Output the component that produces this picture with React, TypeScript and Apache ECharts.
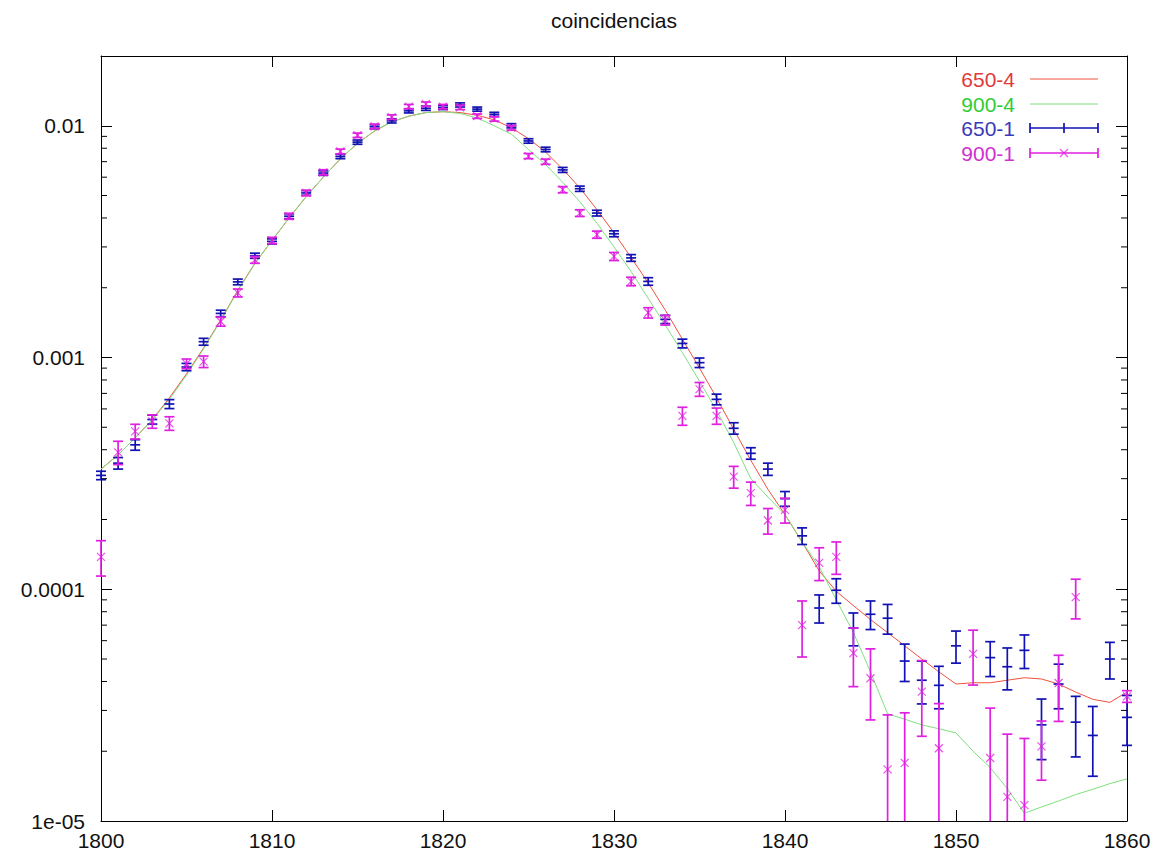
import { useEffect, useRef } from 'react'
import * as echarts from 'echarts'

// x positions (one per unit, 1800..1860)
const xValues = [
  1800, 1801, 1802, 1803, 1804, 1805, 1806, 1807, 1808, 1809,
  1810, 1811, 1812, 1813, 1814, 1815, 1816, 1817, 1818, 1819,
  1820, 1821, 1822, 1823, 1824, 1825, 1826, 1827, 1828, 1829,
  1830, 1831, 1832, 1833, 1834, 1835, 1836, 1837, 1838, 1839,
  1840, 1841, 1842, 1843, 1844, 1845, 1846, 1847, 1848, 1849,
  1850, 1851, 1852, 1853, 1854, 1855, 1856, 1857, 1858, 1859,
  1860,
]

// 650-4 (red line)
const fit650 = [
  3.3e-4, 3.8e-4, 4.5e-4, 5.4e-4, 6.7e-4, 8.5e-4, 1.1e-3, 1.45e-3, 1.95e-3, 2.55e-3,
  3.2e-3, 4.0e-3, 4.95e-3, 6.0e-3, 7.2e-3, 8.4e-3, 9.5e-3, 1.04e-2, 1.1e-2, 1.14e-2,
  1.15e-2, 1.14e-2, 1.11e-2, 1.06e-2, 9.8e-3, 8.8e-3, 7.7e-3, 6.5e-3, 5.4e-3, 4.35e-3,
  3.45e-3, 2.7e-3, 2.1e-3, 1.6e-3, 1.2e-3, 9.0e-4, 6.7e-4, 4.9e-4, 3.6e-4, 2.7e-4,
  2.1e-4, 1.6e-4, 1.2e-4, 9.8e-5, 8.5e-5, 7.4e-5, 6.5e-5, 5.7e-5, 5.0e-5, 4.4e-5,
  3.9e-5, 3.95e-5, 3.95e-5, 4.05e-5, 4.15e-5, 4.1e-5, 3.9e-5, 3.6e-5, 3.35e-5, 3.25e-5,
  3.6e-5,
]

// 900-4 (green line)
const fit900 = [
  3.3e-4, 3.8e-4, 4.5e-4, 5.4e-4, 6.6e-4, 8.4e-4, 1.09e-3, 1.44e-3, 1.94e-3, 2.54e-3,
  3.2e-3, 4.0e-3, 4.95e-3, 6.0e-3, 7.2e-3, 8.4e-3, 9.5e-3, 1.04e-2, 1.1e-2, 1.14e-2,
  1.15e-2, 1.13e-2, 1.08e-2, 1.0e-2, 9.2e-3, 7.9e-3, 6.8e-3, 5.7e-3, 4.7e-3, 3.8e-3,
  3.0e-3, 2.35e-3, 1.8e-3, 1.38e-3, 1.05e-3, 7.9e-4, 5.9e-4, 4.3e-4, 3.0e-4, 2.5e-4,
  2.1e-4, 1.6e-4, 1.25e-4, 9.0e-5, 6.5e-5, 4.4e-5, 2.9e-5, 2.75e-5, 2.6e-5, 2.5e-5,
  2.4e-5, 2.0e-5, 1.7e-5, 1.38e-5, 1.08e-5, 1.15e-5, 1.22e-5, 1.3e-5, 1.37e-5, 1.45e-5,
  1.52e-5,
]

// 650-1 (blue points) and their errors
const meas650 = [
  3.1e-4, 3.5e-4, 4.2e-4, 5.4e-4, 6.3e-4, 9.1e-4, 1.17e-3, 1.55e-3, 2.12e-3, 2.75e-3,
  3.17e-3, 4.07e-3, 5.13e-3, 6.25e-3, 7.37e-3, 8.5e-3, 9.9e-3, 1.05e-2, 1.16e-2, 1.19e-2,
  1.2e-2, 1.23e-2, 1.18e-2, 1.12e-2, 1.0e-2, 8.6e-3, 7.9e-3, 6.45e-3, 5.35e-3, 4.2e-3,
  3.42e-3, 2.69e-3, 2.13e-3, 1.46e-3, 1.15e-3, 9.5e-4, 6.6e-4, 4.95e-4, 3.86e-4, 3.3e-4,
  2.46e-4, 1.7e-4, 8.3e-5, 9.9e-5, 6.8e-5, 7.8e-5, 7.5e-5, 4.9e-5, 4.05e-5, 3.85e-5,
  5.7e-5, null, 5.07e-5, 4.63e-5, 5.45e-5, 2.6e-5, 3.9e-5, 2.67e-5, 2.34e-5, 5.0e-5,
  2.8e-5,
]
const err650 = [
  1.3e-5, 2.0e-5, 2.2e-5, 2.4e-5, 2.8e-5, 3.3e-5, 4.0e-5, 5.0e-5, 6.0e-5, 7.0e-5,
  8.0e-5, 1.0e-4, 1.2e-4, 1.4e-4, 1.6e-4, 1.8e-4, 2.0e-4, 2.2e-4, 2.4e-4, 2.5e-4,
  2.5e-4, 2.5e-4, 2.4e-4, 2.3e-4, 2.1e-4, 1.9e-4, 1.8e-4, 1.6e-4, 1.4e-4, 1.2e-4,
  1.0e-4, 9.0e-5, 8.0e-5, 6.0e-5, 5.0e-5, 4.5e-5, 3.5e-5, 2.8e-5, 2.2e-5, 2.0e-5,
  1.8e-5, 1.4e-5, 1.15e-5, 1.2e-5, 1.1e-5, 1.1e-5, 1.1e-5, 9.0e-6, 8.5e-6, 8.0e-6,
  9.0e-6, null, 8.7e-6, 9.5e-6, 9.0e-6, 7.6e-6, 8.5e-6, 7.8e-6, 7.8e-6, 9.0e-6,
  6.8e-6,
]

// 900-1 (magenta points) and their errors
const meas900 = [
  1.38e-4, 3.9e-4, 4.8e-4, 5.3e-4, 5.2e-4, 9.4e-4, 9.6e-4, 1.43e-3, 1.9e-3, 2.64e-3,
  3.2e-3, 4.07e-3, 5.13e-3, 6.3e-3, 7.75e-3, 9.1e-3, 9.95e-3, 1.09e-2, 1.21e-2, 1.24e-2,
  1.21e-2, 1.2e-2, 1.1e-2, 1.07e-2, 9.8e-3, 7.4e-3, 7.0e-3, 5.3e-3, 4.2e-3, 3.39e-3,
  2.73e-3, 2.13e-3, 1.56e-3, 1.45e-3, 5.6e-4, 7.3e-4, 5.6e-4, 3.06e-4, 2.6e-4, 1.98e-4,
  2.2e-4, 7.0e-5, 1.3e-4, 1.38e-4, 5.3e-5, 4.13e-5, 1.67e-5, 1.78e-5, 3.62e-5, 2.06e-5,
  null, 5.26e-5, 1.87e-5, 1.27e-5, 1.17e-5, 2.1e-5, 3.94e-5, 9.25e-5, null, null,
  3.45e-5,
]
const err900 = [
  2.4e-5, 4.5e-5, 3.5e-5, 3.5e-5, 3.5e-5, 4.5e-5, 5.5e-5, 6.5e-5, 7.5e-5, 9.0e-5,
  1.0e-4, 1.2e-4, 1.4e-4, 1.6e-4, 1.8e-4, 2.0e-4, 2.2e-4, 2.4e-4, 2.6e-4, 2.6e-4,
  2.6e-4, 2.6e-4, 2.4e-4, 2.3e-4, 2.2e-4, 1.9e-4, 1.8e-4, 1.6e-4, 1.4e-4, 1.2e-4,
  1.1e-4, 9.0e-5, 8.0e-5, 7.0e-5, 5.0e-5, 5.0e-5, 4.5e-5, 3.3e-5, 3.0e-5, 2.5e-5,
  2.7e-5, 1.9e-5, 2.1e-5, 2.2e-5, 1.5e-5, 1.4e-5, 1.2e-5, 1.15e-5, 1.3e-5, 1.15e-5,
  null, 1.4e-5, 1.2e-5, 1.1e-5, 1.1e-5, 6.0e-6, 1.25e-5, 1.8e-5, null, null,
  2.0e-6,
]

// y axis labels (major decades) and gnuplot-style minor ticks
const yTickExponents = [-5, -4, -3, -2]
const yTickLabels = ['1e-05', '0.0001', '0.001', '0.01']
const yMinorTicks = [
  2e-5, 3e-5, 4e-5, 5e-5, 6e-5, 7e-5, 8e-5, 9e-5,
  2e-4, 3e-4, 4e-4, 5e-4, 6e-4, 7e-4, 8e-4, 9e-4,
  2e-3, 3e-3, 4e-3, 5e-3, 6e-3, 7e-3, 8e-3, 9e-3,
]

const seriesNames = ['650-4', '900-4', '650-1', '900-1']
const titleText = 'coincidencias'

const FONT = '"Liberation Sans", Arial, Helvetica, sans-serif'
const RED = '#f2503c'
const GREEN = '#7ee07e'
const BLUE = '#1212b4'
const MAGENTA = '#e020e0'
const legendTextColors = ['#e03a3a', '#33cc33', '#3a3ab8', '#d030d0']

// 误差棒：竖线 + 两端横帽 + 中心标记
function makeErrorRender(color: string, marker: 'plus' | 'cross') {
  return (params: any, api: any) => {
    const x = api.value(0)
    const v = api.value(1)
    const e = api.value(2)
    const cs = params.coordSys
    const yTop = cs.y
    const yBot = cs.y + cs.height
    const clampY = (y: number) => Math.min(Math.max(y, yTop), yBot)
    const c = api.coord([x, v])
    const hi = api.coord([x, v + e])
    const lo = api.coord([x, v - e > 1e-9 ? v - e : 1e-9])
    const style = { stroke: color, lineWidth: 1.7, fill: 'none' }
    const w = 5
    const children: any[] = [
      { type: 'line', shape: { x1: c[0], y1: clampY(hi[1]), x2: c[0], y2: clampY(lo[1]) }, style },
    ]
    if (hi[1] >= yTop) {
      children.push({ type: 'line', shape: { x1: c[0] - w, y1: hi[1], x2: c[0] + w, y2: hi[1] }, style })
    }
    if (lo[1] <= yBot) {
      children.push({ type: 'line', shape: { x1: c[0] - w, y1: lo[1], x2: c[0] + w, y2: lo[1] }, style })
    }
    if (c[1] >= yTop && c[1] <= yBot) {
      if (marker === 'plus') {
        children.push({ type: 'line', shape: { x1: c[0] - w, y1: c[1], x2: c[0] + w, y2: c[1] }, style })
      } else {
        const m = 4
        const thin = { stroke: color, lineWidth: 1.1, fill: 'none', opacity: 0.8 }
        children.push({ type: 'line', shape: { x1: c[0] - m, y1: c[1] - m, x2: c[0] + m, y2: c[1] + m }, style: thin })
        children.push({ type: 'line', shape: { x1: c[0] - m, y1: c[1] + m, x2: c[0] + m, y2: c[1] - m }, style: thin })
      }
    }
    return { type: 'group', children }
  }
}

function pointData(values: (number | null)[], errors: (number | null)[]) {
  const out: number[][] = []
  xValues.forEach((x, i) => {
    const v = values[i]
    const e = errors[i]
    if (v != null && e != null) out.push([x, v, e])
  })
  return out
}

function yLabel(value: number) {
  const ex = Math.log10(value)
  const r = Math.round(ex)
  if (Math.abs(ex - r) > 1e-6) return ''
  const idx = yTickExponents.indexOf(r)
  return idx >= 0 ? yTickLabels[idx] : ''
}

export default function App() {
  const chartRef = useRef<HTMLDivElement>(null)

  useEffect(() => {
    if (!chartRef.current) return
    const chart = echarts.init(chartRef.current, undefined, { renderer: 'svg' })

    const axisLine = { show: true, onZero: false, lineStyle: { color: '#000', width: 1 } }
    const tickStyle = { color: '#000', width: 1 }
    const labelStyle = { fontSize: 21, color: '#111', fontFamily: FONT }

    // 图例：文字在左、样本在右（gnuplot 风格）
    const legendRows = [79, 104, 128, 153]
    const lx1 = 1030
    const lx2 = 1098
    const lmid = (lx1 + lx2) / 2
    const legendGraphics: any[] = []
    seriesNames.forEach((name, i) => {
      const y = legendRows[i]
      legendGraphics.push({
        type: 'text',
        style: {
          text: name, x: 1015, y, font: `21px ${FONT}`, fill: legendTextColors[i],
          align: 'right', verticalAlign: 'middle', textAlign: 'right', textVerticalAlign: 'middle',
        },
      })
    })
    legendGraphics.push({ type: 'line', shape: { x1: lx1, y1: legendRows[0], x2: lx2, y2: legendRows[0] }, style: { stroke: RED, lineWidth: 1 } })
    legendGraphics.push({ type: 'line', shape: { x1: lx1, y1: legendRows[1], x2: lx2, y2: legendRows[1] }, style: { stroke: GREEN, lineWidth: 1 } })
    ;[
      { y: legendRows[2], color: BLUE, cross: false },
      { y: legendRows[3], color: MAGENTA, cross: true },
    ].forEach(({ y, color, cross }) => {
      const st = { stroke: color, lineWidth: 1.7 }
      legendGraphics.push({ type: 'line', shape: { x1: lx1, y1: y, x2: lx2, y2: y }, style: st })
      legendGraphics.push({ type: 'line', shape: { x1: lx1, y1: y - 5, x2: lx1, y2: y + 5 }, style: st })
      legendGraphics.push({ type: 'line', shape: { x1: lx2, y1: y - 5, x2: lx2, y2: y + 5 }, style: st })
      if (cross) {
        const thin = { stroke: color, lineWidth: 1.1, opacity: 0.8 }
        legendGraphics.push({ type: 'line', shape: { x1: lmid - 4, y1: y - 4, x2: lmid + 4, y2: y + 4 }, style: thin })
        legendGraphics.push({ type: 'line', shape: { x1: lmid - 4, y1: y + 4, x2: lmid + 4, y2: y - 4 }, style: thin })
      } else {
        legendGraphics.push({ type: 'line', shape: { x1: lmid, y1: y - 5, x2: lmid, y2: y + 5 }, style: st })
      }
    })

    const option: any = {
      animation: false,
      backgroundColor: '#fff',
      grid: { left: 101, right: 29, top: 56, bottom: 37, containLabel: false },
      graphic: [
        {
          type: 'text',
          style: {
            text: titleText, x: 614, y: 20, font: `21px ${FONT}`, fill: '#111',
            align: 'center', verticalAlign: 'middle', textAlign: 'center', textVerticalAlign: 'middle',
          },
        },
        ...legendGraphics,
      ],
      xAxis: [
        {
          type: 'value', min: 1800, max: 1860, interval: 10, position: 'bottom',
          axisLine, axisTick: { show: true, inside: true, length: 11, lineStyle: tickStyle },
          axisLabel: { ...labelStyle, margin: 9, formatter: (v: number) => String(v) },
          splitLine: { show: false },
        },
        {
          type: 'value', min: 1800, max: 1860, interval: 10, position: 'top',
          axisLine, axisTick: { show: true, inside: true, length: 11, lineStyle: tickStyle },
          axisLabel: { show: false },
          splitLine: { show: false },
        },
      ],
      yAxis: [
        {
          type: 'log', logBase: 10, min: 1e-5, max: 0.02, position: 'left',
          axisLine, axisTick: { show: true, inside: true, length: 11, lineStyle: tickStyle },
          axisLabel: { ...labelStyle, margin: 16, formatter: yLabel },
          splitLine: { show: false },
          minorTick: { show: false },
        },
        {
          type: 'log', logBase: 10, min: 1e-5, max: 0.02, position: 'right',
          axisLine, axisTick: { show: true, inside: true, length: 11, lineStyle: tickStyle },
          axisLabel: { show: false },
          splitLine: { show: false },
        },
      ],
      series: [
        {
          name: seriesNames[0], type: 'line', xAxisIndex: 0, yAxisIndex: 0,
          data: xValues.map((x, i) => [x, fit650[i]]),
          showSymbol: false, symbol: 'none', silent: true, z: 2,
          lineStyle: { color: RED, width: 1 }, itemStyle: { color: RED },
        },
        {
          name: seriesNames[1], type: 'line', xAxisIndex: 0, yAxisIndex: 0,
          data: xValues.map((x, i) => [x, fit900[i]]),
          showSymbol: false, symbol: 'none', silent: true, z: 2,
          lineStyle: { color: GREEN, width: 1 }, itemStyle: { color: GREEN },
        },
        {
          name: seriesNames[2], type: 'custom', xAxisIndex: 0, yAxisIndex: 0,
          data: pointData(meas650, err650), encode: { x: 0, y: 1 },
          renderItem: makeErrorRender(BLUE, 'plus'), silent: true, z: 3,
        },
        {
          name: seriesNames[3], type: 'custom', xAxisIndex: 0, yAxisIndex: 0,
          data: pointData(meas900, err900), encode: { x: 0, y: 1 },
          renderItem: makeErrorRender(MAGENTA, 'cross'), silent: true, z: 4,
        },
        {
          // 对数轴次刻度（左右两侧）
          type: 'custom', xAxisIndex: 0, yAxisIndex: 0, silent: true, z: 5,
          data: yMinorTicks.map(v => [1800, v]), encode: { x: 0, y: 1 },
          renderItem: (params: any, api: any) => {
            const cs = params.coordSys
            const p = api.coord([api.value(0), api.value(1)])
            const st = { stroke: '#000', lineWidth: 1 }
            return {
              type: 'group',
              children: [
                { type: 'line', shape: { x1: cs.x, y1: p[1], x2: cs.x + 6, y2: p[1] }, style: st },
                { type: 'line', shape: { x1: cs.x + cs.width - 6, y1: p[1], x2: cs.x + cs.width, y2: p[1] }, style: st },
              ],
            }
          },
        },
      ],
    }

    chart.setOption(option)

    return () => {
      chart.dispose()
    }
  }, [])

  return (
    <div
      ref={chartRef}
      style={{ position: 'absolute', left: 0, top: 0, width: 1156, height: 858, background: '#fff' }}
    />
  )
}
